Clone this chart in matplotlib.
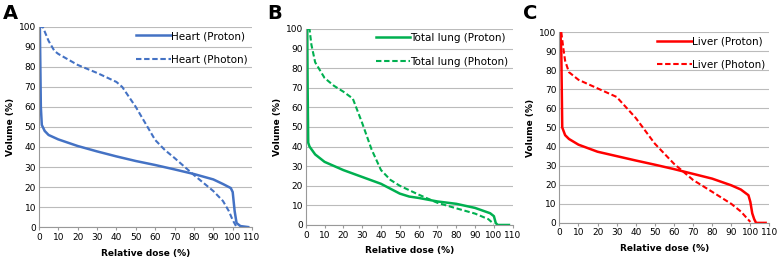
import matplotlib
matplotlib.use("Agg")
import matplotlib.pyplot as plt

# Panel A - Heart
heart_proton_x = [0, 0.5, 1, 1.5, 3, 5, 10, 20, 30, 40, 50, 60, 70, 80, 90, 95, 99, 100, 101, 102, 104, 108]
heart_proton_y = [100, 100, 60, 51, 48, 46, 43.8, 40.5, 37.8, 35.3, 33, 31, 28.8, 26.5, 23.8, 21.5, 19.5, 17.5, 8, 2, 0.5, 0]
heart_photon_x = [0, 2, 5, 8, 10, 20, 30, 40, 43, 50, 60, 65, 70, 80, 90, 95, 98, 100, 102]
heart_photon_y = [100, 100, 93, 88, 86.5, 81, 77, 72.5, 70, 60, 43.5, 38.5, 34.5, 26, 18, 13, 8, 3.5, 0]

# Panel B - Total lung
lung_proton_x = [0, 0.8, 1, 1.3, 2, 5, 10, 20, 30, 40, 50, 55, 60, 70, 80, 90, 98, 100, 101, 102, 108]
lung_proton_y = [100, 100, 70, 42, 40, 36, 32.2, 28, 24.5, 21, 16, 14.5, 13.8, 12, 10.8, 8.7, 6, 4.5, 1, 0, 0]
lung_photon_x = [1, 2, 3, 5, 10, 15, 20, 25, 30, 35, 40, 45, 50, 60, 70, 80, 90, 97, 100]
lung_photon_y = [100, 100, 92, 83, 75, 71, 68, 64.5, 52, 38.5, 28, 23, 20, 15.5, 11.3, 8.5, 5.8, 3, 0.5]

# Panel C - Liver
liver_proton_x = [0.5, 1, 1.5, 3, 5, 10, 20, 30, 40, 50, 60, 70, 80, 90, 95, 99, 100, 101, 102, 103, 108]
liver_proton_y = [100, 90, 50, 46, 44, 41, 37.3, 35, 32.7, 30.5, 28.2, 25.7, 23.2, 19.7, 17.5, 14.5, 11, 5, 2, 0, 0]
liver_photon_x = [1, 2, 3, 5, 10, 20, 30, 40, 50, 60, 70, 80, 90, 95, 100]
liver_photon_y = [100, 92, 85, 79, 75, 70.5, 66, 55, 41.5, 31, 22.5, 16.3, 10, 6, 0.5]

x_ticks = [0, 10, 20, 30, 40, 50, 60, 70, 80, 90, 100, 110]
y_ticks = [0, 10, 20, 30, 40, 50, 60, 70, 80, 90, 100]

panels = [
    ("A", "Heart", "#4472C4", heart_proton_x, heart_proton_y, heart_photon_x, heart_photon_y,
     [0.050, 0.130, 0.274, 0.767], 0.004),
    ("B", "Total lung", "#00B050", lung_proton_x, lung_proton_y, lung_photon_x, lung_photon_y,
     [0.393, 0.138, 0.266, 0.751], 0.344),
    ("C", "Liver", "#FF0000", liver_proton_x, liver_proton_y, liver_photon_x, liver_photon_y,
     [0.719, 0.146, 0.270, 0.731], 0.672),
]

fig = plt.figure(figsize=(7.78, 2.61), dpi=100)
for letter, name, color, px, py, fx, fy, rect, lx in panels:
    ax = fig.add_axes(rect)
    ax.plot(px, py, color=color, lw=1.8, label=f"{name} (Proton)")
    ax.plot(fx, fy, color=color, lw=1.5, ls=(0, (2.6, 1.3)), label=f"{name} (Photon)")
    ax.set_xlim(0, 110)
    ax.set_ylim(0, 100)
    ax.set_xticks(x_ticks)
    ax.set_yticks(y_ticks)
    ax.tick_params(labelsize=6.5, length=2, color="#999999", pad=2)
    ax.tick_params(axis="y", length=0)
    ax.grid(axis="y", color="#bbbbbb", lw=0.8)
    ax.set_axisbelow(True)
    for s in ("top", "right"):
        ax.spines[s].set_visible(False)
    for s in ("left", "bottom"):
        ax.spines[s].set_color("#999999")
        ax.spines[s].set_linewidth(0.8)
    ax.set_xlabel("Relative dose (%)", fontsize=6.5, fontweight="bold", labelpad=5)
    ax.set_ylabel("Volume (%)", fontsize=6.5, fontweight="bold", labelpad=3)
    ax.legend(loc="upper right", frameon=False, fontsize=7.5, handlelength=3.3,
              handletextpad=0.05, labelspacing=1.3, borderaxespad=0.0,
              bbox_to_anchor=(1.0, 1.0))
    fig.text(lx, 0.985, letter, fontsize=14, fontweight="bold", va="top", ha="left")

fig.savefig("out.png", dpi=100)
